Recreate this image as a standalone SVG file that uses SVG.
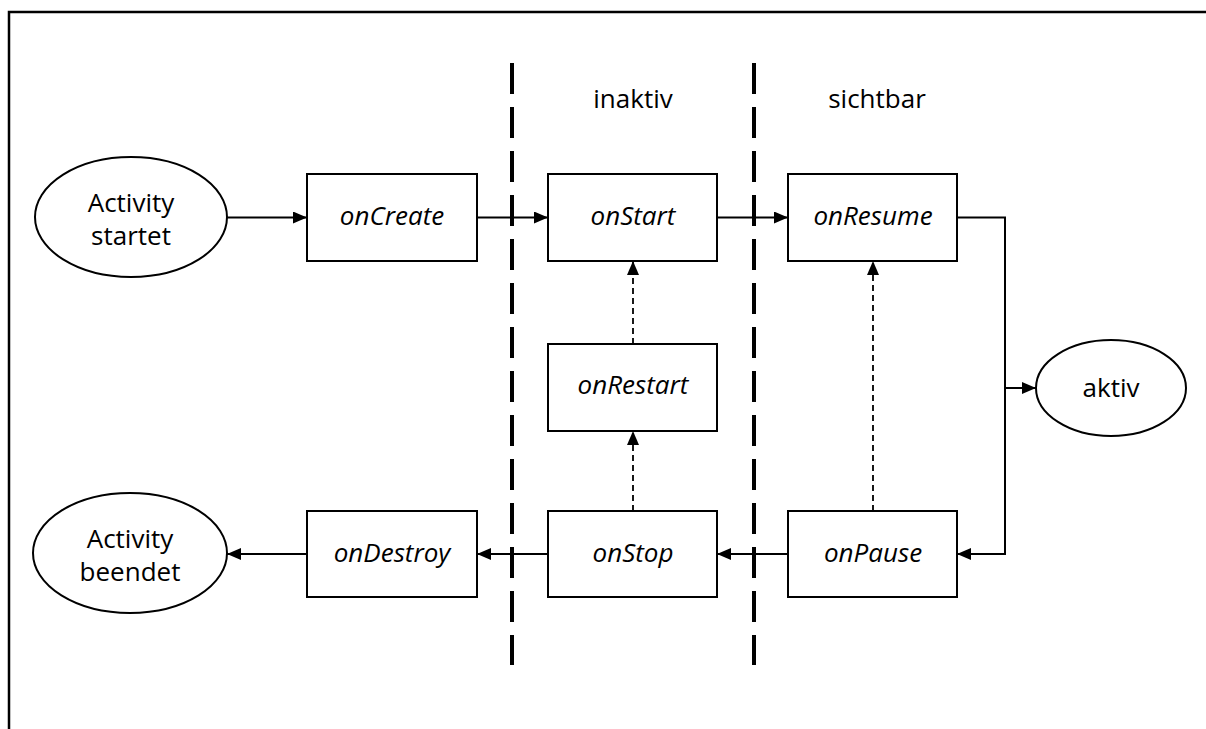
<svg xmlns="http://www.w3.org/2000/svg" width="1206" height="729" viewBox="0 0 1206 729">
  <style>
    .box { fill: #fff; stroke: #000; stroke-width: 2; }
    .lbl { font-family: "Open Sans", "Liberation Sans", sans-serif; font-size: 26px; fill: #000; text-anchor: middle; }
    .it { font-style: italic; }
    .edge { fill: none; stroke: #000; stroke-width: 2; }
    .dash { fill: none; stroke: #000; stroke-width: 1.8; stroke-dasharray: 6 4; }
    .sep { fill: none; stroke: #000; stroke-width: 4; stroke-dasharray: 31 13; }
  </style>
  <defs>
    <marker id="arrow" viewBox="0 0 14 12" refX="14" refY="6" markerWidth="14" markerHeight="12" markerUnits="userSpaceOnUse" orient="auto">
      <path d="M0,0 L14,6 L0,12 Z" fill="#000"/>
    </marker>
  </defs>
  <rect width="1206" height="729" fill="#fff"/>

  <!-- frame -->
  <path d="M9,729 V12 H1206" fill="none" stroke="#000" stroke-width="2.5"/>

  <!-- state separators -->
  <g id="separators">
    <line class="sep" x1="512" y1="63" x2="512" y2="665"/>
    <line class="sep" x1="754" y1="63" x2="754" y2="665"/>
    <text class="lbl" x="633" y="108">inaktiv</text>
    <text class="lbl" x="877" y="108">sichtbar</text>
  </g>

  <!-- connectors -->
  <g id="connectors">
    <line class="edge" x1="227" y1="217.5" x2="307" y2="217.5" marker-end="url(#arrow)"/>
    <line class="edge" x1="477" y1="217.5" x2="548" y2="217.5" marker-end="url(#arrow)"/>
    <line class="edge" x1="717" y1="217.5" x2="788" y2="217.5" marker-end="url(#arrow)"/>
    <path class="edge" d="M957,217.5 H1005 V554 H957" marker-end="url(#arrow)"/>
    <line class="edge" x1="1005" y1="388" x2="1036" y2="388" marker-end="url(#arrow)"/>
    <line class="edge" x1="788" y1="554" x2="717" y2="554" marker-end="url(#arrow)"/>
    <line class="edge" x1="548" y1="554" x2="477" y2="554" marker-end="url(#arrow)"/>
    <line class="edge" x1="307" y1="554" x2="227" y2="554" marker-end="url(#arrow)"/>
    <line class="dash" x1="633" y1="511" x2="633" y2="431" marker-end="url(#arrow)"/>
    <line class="dash" x1="633" y1="344" x2="633" y2="261" marker-end="url(#arrow)"/>
    <line class="dash" x1="873" y1="511" x2="873" y2="261" marker-end="url(#arrow)"/>
  </g>

  <!-- nodes -->
  <g id="activity-startet">
    <ellipse class="box" cx="131" cy="217" rx="96" ry="60"/>
    <text class="lbl" x="131" y="212">Activity</text>
    <text class="lbl" x="131" y="245">startet</text>
  </g>
  <g id="onCreate">
    <rect class="box" x="307" y="174" width="170" height="87"/>
    <text class="lbl it" x="392" y="225">onCreate</text>
  </g>
  <g id="onStart">
    <rect class="box" x="548" y="174" width="169" height="87"/>
    <text class="lbl it" x="633" y="225">onStart</text>
  </g>
  <g id="onResume">
    <rect class="box" x="788" y="174" width="169" height="87"/>
    <text class="lbl it" x="873" y="225">onResume</text>
  </g>
  <g id="onRestart">
    <rect class="box" x="548" y="344" width="169" height="87"/>
    <text class="lbl it" x="633" y="394">onRestart</text>
  </g>
  <g id="aktiv">
    <ellipse class="box" cx="1111" cy="388" rx="75" ry="48"/>
    <text class="lbl" x="1111" y="397">aktiv</text>
  </g>
  <g id="onStop">
    <rect class="box" x="548" y="511" width="169" height="86"/>
    <text class="lbl it" x="633" y="562">onStop</text>
  </g>
  <g id="onPause">
    <rect class="box" x="788" y="511" width="169" height="86"/>
    <text class="lbl it" x="873" y="562">onPause</text>
  </g>
  <g id="onDestroy">
    <rect class="box" x="307" y="511" width="170" height="86"/>
    <text class="lbl it" x="392" y="562">onDestroy</text>
  </g>
  <g id="activity-beendet">
    <ellipse class="box" cx="130" cy="553" rx="97" ry="60"/>
    <text class="lbl" x="130" y="548">Activity</text>
    <text class="lbl" x="130" y="581">beendet</text>
  </g>
</svg>
